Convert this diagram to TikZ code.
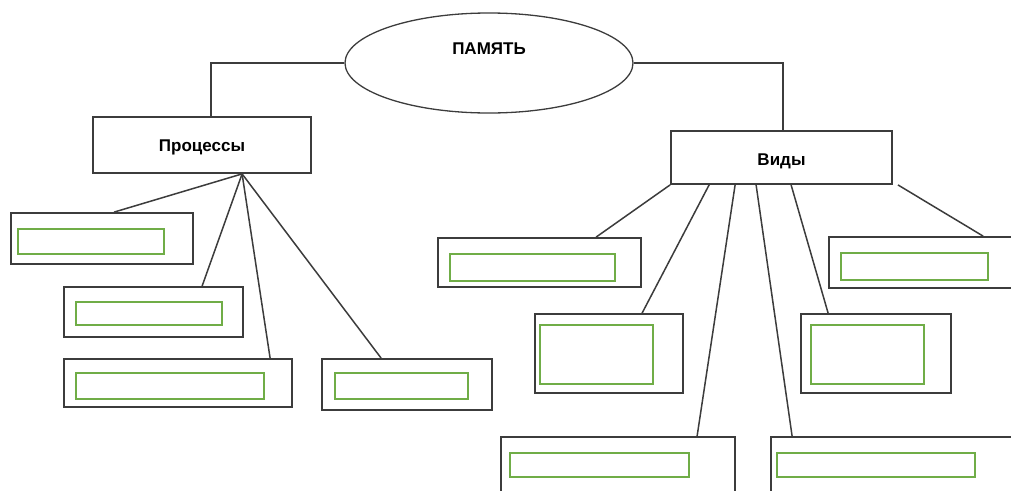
\documentclass[tikz,border=0pt]{standalone}
\usepackage{fontspec}
\setmainfont{Liberation Sans}
\usetikzlibrary{shapes.geometric}
\definecolor{MapLine}{HTML}{3C3C3C}
\definecolor{MapGreen}{HTML}{70AD47}
\colorlet{CardBorder}{MapLine}
\colorlet{SlotBorder}{MapGreen}

\begin{document}
\begin{tikzpicture}[x=1pt, y=-1pt,
        title/.style={font=\fontsize{17}{19}\selectfont\bfseries},
        oval/.style={ellipse, draw=CardBorder, line width=1.3pt, inner sep=0pt},
        card/.style={rectangle, draw=CardBorder, line width=1.8pt, inner sep=0pt},
        slot/.style={rectangle, draw=SlotBorder, line width=2.2pt, inner sep=0pt},
        link/.style={draw=CardBorder, line width=1.5pt}
    ]

    % Page
    \useasboundingbox (0,0) rectangle (1011,490);
    \clip (0,0) rectangle (1011,490);

    % Root
    \node[oval, minimum width=288pt, minimum height=100pt] (mem) at (489,63) {};
    \node[title] (memlabel) at ([yshift=14pt]mem.center) {ПАМЯТЬ};

    % Branches
    \node[card, minimum width=218pt, minimum height=56pt] (proc) at (202,145) {};
    \node[card, minimum width=221pt, minimum height=53pt] (vid) at (781.5,157.5) {};
    \node[title] (proclabel) at ([yshift=-2pt]proc.center) {Процессы};
    \node[title] (vidlabel) at ([yshift=-4pt]vid.center) {Виды};
    \draw[link] (mem.west) -| ([xshift=119pt]proc.north west);
    \draw[link] (mem.east) -| ([xshift=113pt]vid.north west);

    % Processes
    \node[card, minimum width=182pt, minimum height=51pt] (l1) at (102,238.5) {};
    \node[card, minimum width=179pt, minimum height=50pt] (l2) at (153.5,312) {};
    \node[card, minimum width=228pt, minimum height=48pt] (l3) at (178,383) {};
    \node[card, minimum width=170pt, minimum height=51pt] (l4) at (407,384.5) {};
    \node[slot, minimum width=146pt, minimum height=25pt] (l1in) at (91,241.5) {};
    \node[slot, minimum width=146pt, minimum height=23pt] (l2in) at (149,313.5) {};
    \node[slot, minimum width=188pt, minimum height=26pt] (l3in) at (170,386) {};
    \node[slot, minimum width=133pt, minimum height=26pt] (l4in) at (401.5,386) {};

    \coordinate (pfan) at ([xshift=150pt]proc.south west);
    \foreach \b/\e in {l1/104, l2/139, l3/207, l4/60}
        \draw[link] (pfan) -- ([xshift=\e pt]\b.north west);

    % Kinds
    \node[card, minimum width=203pt, minimum height=49pt] (r1) at (539.5,262.5) {};
    \node[card, minimum width=148pt, minimum height=79pt] (r2) at (609,353.5) {};
    \node[card, minimum width=234pt, minimum height=100pt] (r3) at (618,487) {};
    \node[card, minimum width=289pt, minimum height=100pt] (r4) at (915.5,487) {};
    \node[card, minimum width=150pt, minimum height=79pt] (r5) at (876,353.5) {};
    \node[card, minimum width=221pt, minimum height=51pt] (r6) at (939.5,262.5) {};
    \node[slot, minimum width=165pt, minimum height=27pt] (r1in) at (532.5,267.5) {};
    \node[slot, minimum width=113pt, minimum height=59pt] (r2in) at (596.5,354.5) {};
    \node[slot, minimum width=179pt, minimum height=24pt] (r3in) at (599.5,465) {};
    \node[slot, minimum width=198pt, minimum height=24pt] (r4in) at (876,465) {};
    \node[slot, minimum width=113pt, minimum height=59pt] (r5in) at (867.5,354.5) {};
    \node[slot, minimum width=147pt, minimum height=27pt] (r6in) at (914.5,266.5) {};

    \foreach \s/\b/\e in {0/r1/159, 39/r2/108, 65/r3/197, 86/r4/22, 121/r5/28}
        \draw[link] ([xshift=\s pt]vid.south west) -- ([xshift=\e pt]\b.north west);
    \coordinate (vidgap) at ([xshift=5pt]vid.south east);
    \draw[link] (vidgap) -- ([xshift=155pt]r6.north west);

\end{tikzpicture}
\end{document}
